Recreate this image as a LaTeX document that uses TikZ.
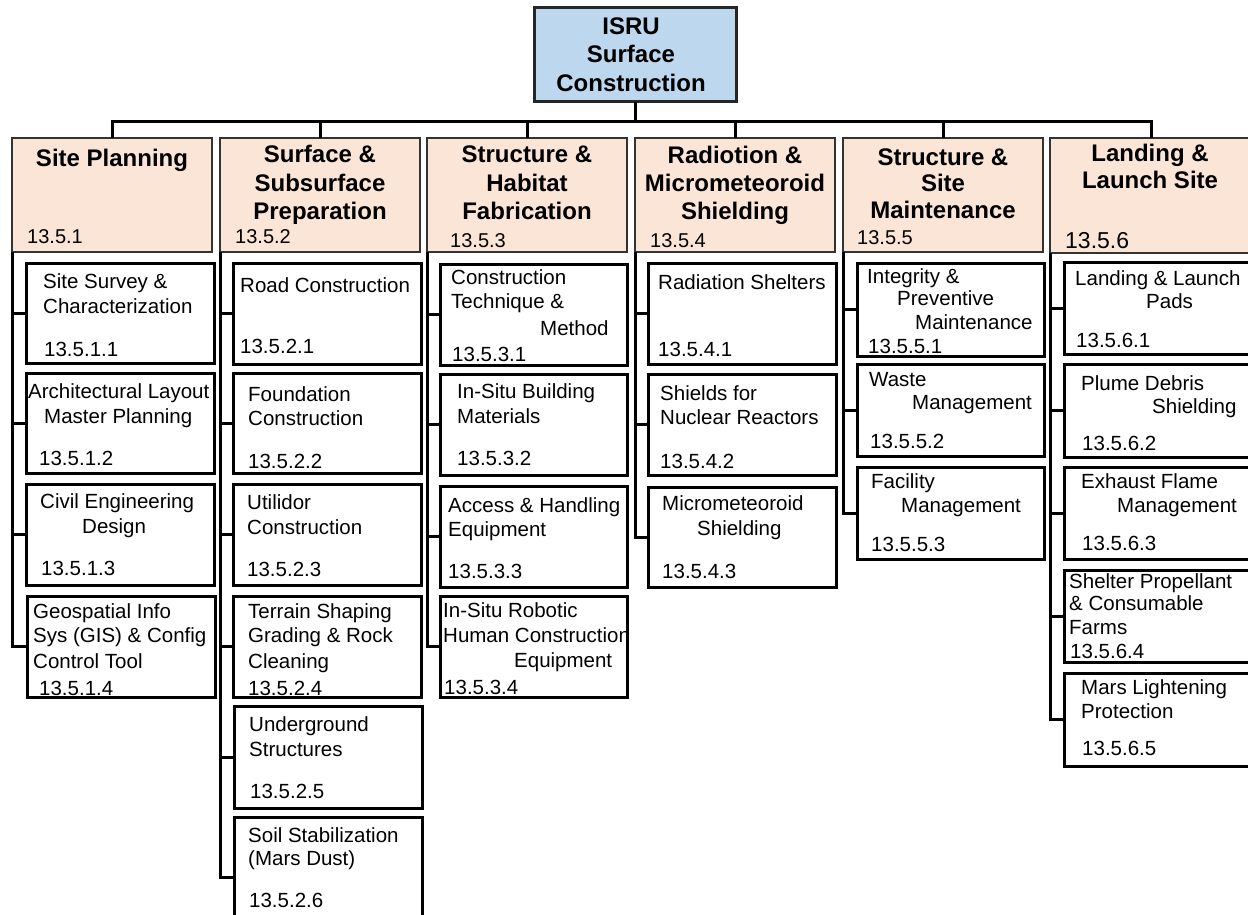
\documentclass[tikz,border=0pt]{standalone}
\usepackage{fontspec}
\setmainfont{Liberation Sans}
\definecolor{hdrfill}{HTML}{FBE5D6}
\definecolor{rootfill}{HTML}{BDD7EE}
\newcommand\Ltxt[4]{\node[txt] (#1) at (#2,#3) {#4};}
\newcommand\Ctxt[4]{\node[htxt] (#1) at (#2,#3) {#4};}
\newcommand\Cbox[6]{\node[#1, anchor=north west, minimum width=#4pt, minimum height=#5pt] (#6) at (#2,#3) {};}
\begin{document}
\begin{tikzpicture}[x=1pt,y=-1pt,
  conn/.style={draw=black, line width=3pt},
  cbox/.style={draw=black, line width=3pt, inner sep=0pt, outer sep=0pt},
  hbox/.style={draw=black!80, fill=hdrfill, line width=2.4pt, inner sep=0pt, outer sep=0pt},
  rbox/.style={draw=black!85, fill=rootfill, line width=3pt, inner sep=0pt, outer sep=0pt},
  txt/.style={anchor=base west, inner sep=0pt, font=\fontsize{20.5}{24}\selectfont},
  htxt/.style={anchor=base, inner sep=0pt, font=\bfseries\fontsize{24}{28}\selectfont},
  hcode/.style={anchor=base west, inner sep=0pt, font=\fontsize{20}{24}\selectfont}]
\useasboundingbox (0,0) rectangle (1248,915);

% root
\Cbox{rbox}{534}{8}{202}{94}{root}
\Ctxt{r1}{631}{35}{ISRU}
\Ctxt{r2}{631}{63}{Surface}
\Ctxt{r3}{631}{92}{Construction}

% headers
\Cbox{hbox}{12}{138}{200}{114}{h1}
\Cbox{hbox}{220}{138}{200}{114}{h2}
\Cbox{hbox}{427}{138}{200}{114}{h3}
\Cbox{hbox}{635}{138}{200}{114}{h4}
\Cbox{hbox}{843}{138}{200}{114}{h5}
\Cbox{hbox}{1050}{138}{202}{115}{h6}

\Ctxt{h1a}{112}{167}{Site Planning}
\Ctxt{h2a}{320}{163}{Surface \&}
\Ctxt{h2b}{320}{191}{Subsurface}
\Ctxt{h2c}{320}{219}{Preparation}
\Ctxt{h3a}{527}{163}{Structure \&}
\Ctxt{h3b}{527}{191}{Habitat}
\Ctxt{h3c}{527}{219}{Fabrication}
\Ctxt{h4a}{735}{164}{Radiotion \&}
\Ctxt{h4b}{735}{192}{Micrometeoroid}
\Ctxt{h4c}{735}{219}{Shielding}
\Ctxt{h5a}{943}{165}{Structure \&}
\Ctxt{h5b}{943}{192}{Site}
\Ctxt{h5c}{943}{218}{Maintenance}
\Ctxt{h6a}{1150}{161}{Landing \&}
\Ctxt{h6b}{1150}{189}{Launch Site}

\node[hcode] (h1n) at (27,243) {13.5.1};
\node[hcode] (h2n) at (235,243) {13.5.2};
\node[hcode] (h3n) at (450,247) {13.5.3};
\node[hcode] (h4n) at (650,247) {13.5.4};
\node[hcode] (h5n) at (857,244) {13.5.5};
\node[hcode, font=\fontsize{23}{27}\selectfont] (h6n) at (1065,248) {13.5.6};

% bus
\coordinate (bus) at (0,122);
\draw[conn] (h1.north) -- (h1.north |- bus) -- (h6.north |- bus) -- (h6.north);
\draw[conn] (root.south) -- (root.south |- bus);
\draw[conn] (h2.north) -- (h2.north |- bus);
\draw[conn] (h3.north) -- (h3.north |- bus);
\draw[conn] (h4.north) -- (h4.north |- bus);
\draw[conn] (h5.north) -- (h5.north |- bus);

% column 1
\Cbox{cbox}{26}{263}{188}{100}{b11}
\Cbox{cbox}{26}{373}{188}{100}{b12}
\Cbox{cbox}{26}{484}{188}{101}{b13}
\Cbox{cbox}{27}{596}{188}{101}{b14}
\Ltxt{t11a}{43}{288}{Site Survey \&}
\Ltxt{t11b}{43}{313}{Characterization}
\Ltxt{t11c}{44}{356}{13.5.1.1}
\Ltxt{t12a}{28}{398}{Architectural Layout}
\Ltxt{t12b}{44}{423}{Master Planning}
\Ltxt{t12c}{39}{465}{13.5.1.2}
\Ltxt{t13a}{40}{508}{Civil Engineering}
\Ltxt{t13b}{82}{533}{Design}
\Ltxt{t13c}{41}{575}{13.5.1.3}
\Ltxt{t14a}{33}{618}{Geospatial Info}
\Ltxt{t14b}{33}{642}{Sys (GIS) \& Config}
\Ltxt{t14c}{33}{668}{Control Tool}
\Ltxt{t14d}{39}{695}{13.5.1.4}
\draw[conn] (h1.south west) |- (b14.west);
\draw[conn] (h1.south west |- b11.west) -- (b11.west);
\draw[conn] (h1.south west |- b12.west) -- (b12.west);
\draw[conn] (h1.south west |- b13.west) -- (b13.west);

% column 2
\Cbox{cbox}{233}{263}{188}{101}{b21}
\Cbox{cbox}{233}{373}{188}{100}{b22}
\Cbox{cbox}{233}{484}{188}{101}{b23}
\Cbox{cbox}{233}{596}{188}{101}{b24}
\Cbox{cbox}{234}{706}{188}{102}{b25}
\Cbox{cbox}{234}{817}{188}{120}{b26}
\Ltxt{t21a}{240}{292}{Road Construction}
\Ltxt{t21b}{240}{353}{13.5.2.1}
\Ltxt{t22a}{248}{401}{Foundation}
\Ltxt{t22b}{248}{425}{Construction}
\Ltxt{t22c}{248}{468}{13.5.2.2}
\Ltxt{t23a}{247}{509}{Utilidor}
\Ltxt{t23b}{247}{534}{Construction}
\Ltxt{t23c}{247}{576}{13.5.2.3}
\Ltxt{t24a}{248}{618}{Terrain Shaping}
\Ltxt{t24b}{248}{642}{Grading \& Rock}
\Ltxt{t24c}{248}{668}{Cleaning}
\Ltxt{t24d}{248}{695}{13.5.2.4}
\Ltxt{t25a}{249}{731}{Underground}
\Ltxt{t25b}{249}{756}{Structures}
\Ltxt{t25c}{250}{798}{13.5.2.5}
\Ltxt{t26a}{248}{842}{Soil Stabilization}
\Ltxt{t26b}{248}{865}{(Mars Dust)}
\Ltxt{t26c}{249}{907}{13.5.2.6}
\draw[conn] (h2.south west) |- (b26.west);
\draw[conn] (h2.south west |- b21.west) -- (b21.west);
\draw[conn] (h2.south west |- b22.west) -- (b22.west);
\draw[conn] (h2.south west |- b23.west) -- (b23.west);
\draw[conn] (h2.south west |- b24.west) -- (b24.west);
\draw[conn] (h2.south west |- b25.west) -- (b25.west);

% column 3
\Cbox{cbox}{440}{264}{187}{101}{b31}
\Cbox{cbox}{440}{374}{187}{101}{b32}
\Cbox{cbox}{440}{486}{187}{101}{b33}
\Cbox{cbox}{440}{596}{187}{101}{b34}
\Ltxt{t31a}{451}{284}{Construction}
\Ltxt{t31b}{451}{308}{Technique \&}
\Ltxt{t31c}{540}{335}{Method}
\Ltxt{t31d}{452}{361}{13.5.3.1}
\Ltxt{t32a}{457}{398}{In-Situ Building}
\Ltxt{t32b}{457}{423}{Materials}
\Ltxt{t32c}{457}{465}{13.5.3.2}
\Ltxt{t33a}{448}{512}{Access \& Handling}
\Ltxt{t33b}{448}{536}{Equipment}
\Ltxt{t33c}{448}{578}{13.5.3.3}
\Ltxt{t34a}{443}{617}{In-Situ Robotic}
\Ltxt{t34b}{443}{642}{Human Construction}
\Ltxt{t34c}{514}{667}{Equipment}
\Ltxt{t34d}{444}{694}{13.5.3.4}
\draw[conn] (h3.south west) |- (b34.west);
\draw[conn] (h3.south west |- b31.west) -- (b31.west);
\draw[conn] (h3.south west |- b32.west) -- (b32.west);
\draw[conn] (h3.south west |- b33.west) -- (b33.west);

% column 4
\Cbox{cbox}{648}{263}{188}{101}{b41}
\Cbox{cbox}{648}{374}{188}{101}{b42}
\Cbox{cbox}{648}{487}{188}{100}{b43}
\Ltxt{t41a}{658}{289}{Radiation Shelters}
\Ltxt{t41b}{658}{356}{13.5.4.1}
\Ltxt{t42a}{660}{400}{Shields for}
\Ltxt{t42b}{660}{424}{Nuclear Reactors}
\Ltxt{t42c}{660}{468}{13.5.4.2}
\Ltxt{t43a}{662}{510}{Micrometeoroid}
\Ltxt{t43b}{697}{535}{Shielding}
\Ltxt{t43c}{662}{578}{13.5.4.3}
\draw[conn] (h4.south west) |- (b43.west);
\draw[conn] (h4.south west |- b41.west) -- (b41.west);
\draw[conn] (h4.south west |- b42.west) -- (b42.west);

% column 5
\Cbox{cbox}{857}{263}{187}{93}{b51}
\Cbox{cbox}{857}{364}{187}{92}{b52}
\Cbox{cbox}{857}{467}{187}{92}{b53}
\Ltxt{t51a}{867}{283}{Integrity \&}
\Ltxt{t51b}{897}{305}{Preventive}
\Ltxt{t51c}{915}{329}{Maintenance}
\Ltxt{t51d}{868}{353}{13.5.5.1}
\Ltxt{t52a}{869}{386}{Waste}
\Ltxt{t52b}{912}{409}{Management}
\Ltxt{t52c}{870}{448}{13.5.5.2}
\Ltxt{t53a}{871}{488}{Facility}
\Ltxt{t53b}{901}{512}{Management}
\Ltxt{t53c}{871}{551}{13.5.5.3}
\draw[conn] (h5.south west) |- (b53.west);
\draw[conn] (h5.south west |- b51.west) -- (b51.west);
\draw[conn] (h5.south west |- b52.west) -- (b52.west);

% column 6
\Cbox{cbox}{1064}{262}{188}{92}{b61}
\Cbox{cbox}{1064}{364}{188}{93}{b62}
\Cbox{cbox}{1064}{467}{188}{92}{b63}
\Cbox{cbox}{1064}{570}{188}{92}{b64}
\Cbox{cbox}{1064}{673}{188}{93}{b65}
\Ltxt{t61a}{1075}{285}{Landing \& Launch}
\Ltxt{t61b}{1146}{308}{Pads}
\Ltxt{t61c}{1076}{347}{13.5.6.1}
\Ltxt{t62a}{1081}{390}{Plume Debris}
\Ltxt{t62b}{1152}{413}{Shielding}
\Ltxt{t62c}{1082}{450}{13.5.6.2}
\Ltxt{t63a}{1081}{488}{Exhaust Flame}
\Ltxt{t63b}{1117}{512}{Management}
\Ltxt{t63c}{1082}{550}{13.5.6.3}
\Ltxt{t64a}{1069}{588}{Shelter Propellant}
\Ltxt{t64b}{1069}{610}{\& Consumable}
\Ltxt{t64c}{1069}{634}{Farms}
\Ltxt{t64d}{1070}{658}{13.5.6.4}
\Ltxt{t65a}{1081}{694}{Mars Lightening}
\Ltxt{t65b}{1081}{718}{Protection}
\Ltxt{t65c}{1082}{755}{13.5.6.5}
\draw[conn] (h6.south west) |- (b65.west);
\draw[conn] (h6.south west |- b61.west) -- (b61.west);
\draw[conn] (h6.south west |- b62.west) -- (b62.west);
\draw[conn] (h6.south west |- b63.west) -- (b63.west);
\draw[conn] (h6.south west |- b64.west) -- (b64.west);
\end{tikzpicture}
\end{document}
